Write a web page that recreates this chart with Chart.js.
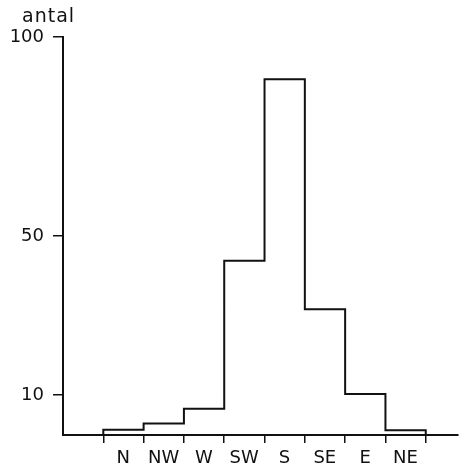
<!DOCTYPE html>
<html>
<head>
<meta charset="utf-8">
<script src="https://cdn.jsdelivr.net/npm/chart.js@4.4.1/dist/chart.umd.min.js"></script>
<style>
  html, body { margin: 0; padding: 0; background: #fff; }
</style>
</head>
<body>
<canvas id="chart" width="463" height="467"></canvas>
<script>
// vindriktningar och antal
const categories = ['N', 'NW', 'W', 'SW', 'S', 'SE', 'E', 'NE'];
const counts = [1.3, 2.9, 6.6, 43.8, 89.4, 31.6, 10.3, 1.2];
const yTicks = [10, 50, 100];
const yLabel = 'antal';

// trappstegslinje: bas -> varje klass vänsterkant -> ner till basen
const points = [{ x: 0, y: 0 }];
counts.forEach((v, i) => points.push({ x: i, y: v }));
points.push({ x: counts.length, y: 0 });

const edges = categories.map((_, i) => i).concat([categories.length]);
const ink = '#111';
const font = { family: '"DejaVu Sans", sans-serif', size: 18 };

const axisTitle = {
    id: 'axisTitle',
    afterDraw(chart) {
        const ctx = chart.ctx;
        ctx.save();
        ctx.fillStyle = ink;
        ctx.font = '19px "DejaVu Sans", sans-serif';
        ctx.letterSpacing = '1px';
        ctx.textBaseline = 'alphabetic';
        ctx.fillText(yLabel, 22, 22);
        ctx.restore();
    }
};

new Chart(document.getElementById('chart'), {
    type: 'line',
    data: {
        datasets: [{
            data: points,
            stepped: 'before',
            borderColor: ink,
            borderWidth: 2,
            pointRadius: 0,
            fill: false
        }]
    },
    options: {
        responsive: false,
        animation: false,
        devicePixelRatio: 1,
        layout: { padding: { top: 37, right: 5, left: 0, bottom: 0 } },
        plugins: { legend: { display: false }, tooltip: { enabled: false } },
        scales: {
            x: {
                type: 'linear',
                min: -1,
                max: 8.8,
                afterBuildTicks: (scale) => { scale.ticks = edges.map(v => ({ value: v })); },
                afterFit: (scale) => { scale.height = 32; },
                grid: { drawOnChartArea: false, tickLength: 8, color: ink, lineWidth: 1.5 },
                border: { display: true, color: ink, width: 2 },
                ticks: {
                    color: ink,
                    font: font,
                    padding: 5,
                    maxRotation: 0,
                    autoSkip: false,
                    labelOffset: 20,
                    callback: (v) => categories[v] || ''
                }
            },
            y: {
                min: 0,
                max: 100,
                afterBuildTicks: (scale) => { scale.ticks = yTicks.map(v => ({ value: v })); },
                afterFit: (scale) => { scale.width = 63; },
                grid: { drawOnChartArea: false, tickLength: 10, color: ink, lineWidth: 1.5 },
                border: { display: true, color: ink, width: 2 },
                ticks: { color: ink, font: font, padding: 9 }
            }
        }
    },
    plugins: [axisTitle]
});
</script>
</body>
</html>
